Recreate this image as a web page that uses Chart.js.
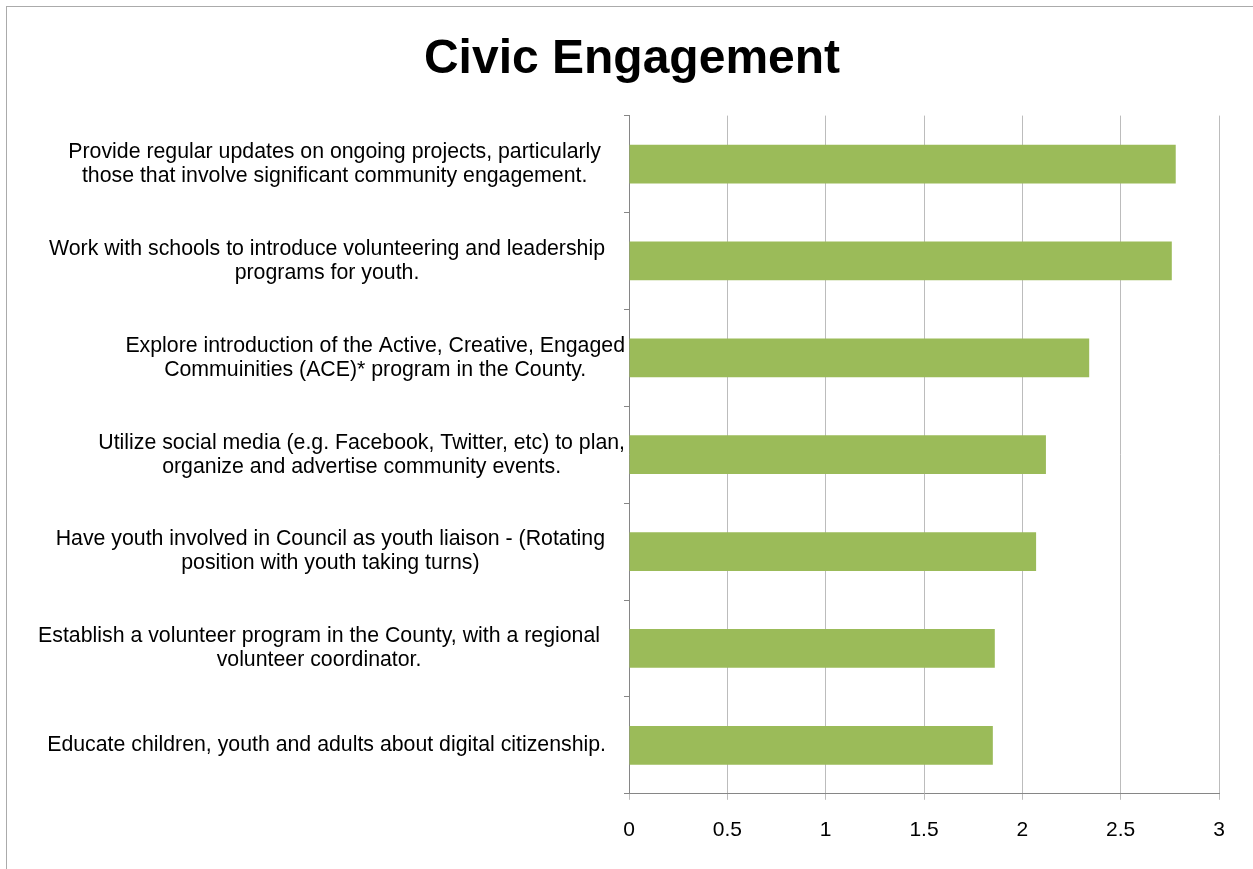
<!DOCTYPE html>
<html>
<head>
<meta charset="utf-8">
<title>Civic Engagement</title>
<script src="https://cdn.jsdelivr.net/npm/chart.js@4/dist/chart.umd.min.js"></script>
<style>
  html, body { margin: 0; padding: 0; background: #fff; overflow: hidden; }
  #frame {
    position: absolute; left: 6px; top: 6px;
    width: 1250px; height: 863px;
    border-left: 1px solid #ababab; border-top: 1px solid #ababab;
  }
</style>
</head>
<body>
<div id="frame"><canvas id="civic"></canvas></div>
<script>
// survey items, wrapped the way they are shown beside the bars
var actions = [
  ["Provide regular updates on ongoing projects, particularly", "those that involve significant community engagement."],
  ["Work with schools to introduce volunteering and leadership", "programs for youth."],
  ["Explore introduction of the Active, Creative, Engaged", "Commuinities (ACE)* program in the County."],
  ["Utilize social media (e.g. Facebook, Twitter, etc) to plan,", "organize and advertise community events."],
  ["Have youth involved in Council as youth liaison - (Rotating", "position with youth taking turns)"],
  ["Establish a volunteer program in the County, with a regional", "volunteer coordinator."],
  ["Educate children, youth and adults about digital citizenship."]
]
var scores = [2.78, 2.76, 2.34, 2.12, 2.07, 1.86, 1.85]
var xTicks = [0, 0.5, 1, 1.5, 2, 2.5, 3]

var FONT = '"Liberation Sans", Arial, sans-serif'

// category text is drawn by hand so each block can be centred on its own
var labelGap = [28, 24, 4, 4, 24, 29, 23]
var categoryText = {
  id: 'categoryText',
  afterDraw: function(chart) {
    var ctx = chart.ctx
    var y = chart.scales.y
    ctx.save()
    ctx.font = '21.3px ' + FONT
    ctx.fillStyle = '#000'
    ctx.textAlign = 'center'
    ctx.textBaseline = 'middle'
    actions.forEach(function(lines, i) {
      var widest = Math.max.apply(null, lines.map(function(l) { return ctx.measureText(l).width }))
      var cx = y.right - labelGap[i] - widest / 2
      var cy = y.getPixelForTick(i) - (lines.length - 1) * 12
      lines.forEach(function(l, k) { ctx.fillText(l, cx, cy + k * 24) })
    })
    ctx.restore()
  }
}

new Chart(document.getElementById('civic'), {
  type: 'bar',
  data: {
    labels: actions,
    datasets: [{
      data: scores,
      backgroundColor: '#9bbb59',
      barPercentage: 0.4,
      categoryPercentage: 1
    }]
  },
  options: {
    indexAxis: 'y',
    responsive: true,
    maintainAspectRatio: false,
    animation: false,
    layout: { padding: { top: 0, right: 0, bottom: 9, left: 0 } },
    plugins: {
      legend: { display: false },
      tooltip: { enabled: false },
      title: {
        display: true,
        text: 'Civic Engagement',
        color: '#000',
        font: { family: FONT, size: 48, weight: 'bold' },
        padding: { top: 24, bottom: 27 }
      }
    },
    scales: {
      x: {
        min: 0,
        max: 3,
        afterBuildTicks: function(s) { s.ticks = xTicks.map(function(v) { return { value: v } }) },
        ticks: {
          color: '#000',
          font: { family: FONT, size: 21 },
          padding: 18,
          callback: function(v) { return String(v) }
        },
        grid: { color: '#bcbcbc', tickLength: 6 },
        border: { color: '#868686' }
      },
      y: {
        afterFit: function(s) { s.width = 622 },
        ticks: { display: false },
        grid: { drawOnChartArea: false, color: '#868686', tickLength: 5 },
        border: { color: '#868686' }
      },
      // empty strip on the right so the plot stops short of the edge
      gutter: {
        type: 'linear',
        axis: 'y',
        position: 'right',
        afterFit: function(s) { s.width = 38 },
        ticks: { display: false },
        grid: { display: false },
        border: { display: false }
      }
    }
  },
  plugins: [categoryText]
})
</script>
</body>
</html>
